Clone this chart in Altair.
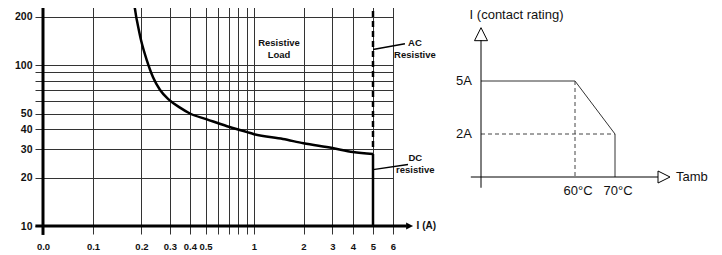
import altair as alt
import pandas as pd

# ---------------- data: left panel (load limit curve) ----------------
X_ORIGIN = 0.05  # the "0.0" origin of the current axis
X_TICKS = [X_ORIGIN, 0.1, 0.2, 0.3, 0.4, 0.5, 0.6, 0.7, 0.8, 0.9, 1, 2, 3, 4, 5, 6]
X_LABELLED = [X_ORIGIN, 0.1, 0.2, 0.3, 0.4, 0.5, 1, 2, 3, 4, 5, 6]
Y_TICKS = [10, 20, 30, 40, 50, 60, 70, 80, 90, 100, 200, 250]
Y_LABELLED = [10, 20, 30, 40, 50, 100, 200, 250]

DC_CURRENT = [X_ORIGIN, 0.177, 0.187, 0.199, 0.216, 0.236, 0.261, 0.296, 0.347, 0.40,
              0.51, 0.68, 0.906, 1.0, 1.5, 2, 3, 4, 5]
DC_VOLTAGE = [250, 250, 191, 142, 107, 84, 70, 61, 54.4, 50,
              46, 41.7, 38.3, 37.2, 34.7, 32.7, 30.5, 28.8, 28]
DC_CUTOFF_I = [5, 5]
DC_CUTOFF_V = [28, 10]
AC_CURRENT = [0.177, 5, 5]
AC_VOLTAGE = [250, 250, 30]

LEFT_NOTES = ["Resistive\nLoad", "AC\nResistive", "DC\nresistive"]
LEFT_NOTES_I = [1.42, 7.33, 7.35]
LEFT_NOTES_V = [126, 125.6, 24.3]
LEADER_I = [5, 5]
LEADER_V = [124.8, 22.4]
LEADER_I2 = [6.69, 6.88]
LEADER_V2 = [135.8, 24.1]

AXIS_I_START, AXIS_I_END, ARROW_I = 0.045, 6.8, 6.98
AXIS_V_BOTTOM, AXIS_V_TOP = 8.8, 250

# ---------------- data: right panel (derating) ----------------
PROFILE_T = [0, 60, 70, 70]
PROFILE_A = [5, 5, 2, 0]
GUIDE_T = [60, 0]
GUIDE_A = [5, 2]
GUIDE_T2 = [60, 70]
GUIDE_A2 = [0, 2]
T_LABELS = ["60°C", "70°C"]
T_LABEL_VALUES = [60, 70]
A_LABELS = ["5A", "2A"]
A_LABEL_VALUES = [5, 2]
R_AXIS_T_START, R_AXIS_T_END, R_ARROW_T = -6.5, 80.75, 82.25
R_AXIS_A_START, R_AXIS_A_END, R_ARROW_A = -0.5, 7.32, 7.65
R_TITLE_T, R_TITLE_A = 22.7, 8.74

FONT_BOLD = "Liberation Sans, Arial, sans-serif"
FONT_REG = "Liberation Sans, Arial, sans-serif"

xL = alt.Scale(type="log", domain=[X_ORIGIN, 0.1, 1, 4, 5, 6],
               range=[0, 50, 211, 310, 330, 350], nice=False)
yL = alt.Scale(type="log", domain=[10, 250], nice=False)
xR = alt.Scale(type="linear", domain=[0, 60, 70], range=[438, 532, 572], nice=False, zero=False)
yR = alt.Scale(type="linear", domain=[0, 2, 5], range=[176, 133, 80], nice=False, zero=False)


def xl(f="I"):
    return alt.X(f, type="quantitative", scale=xL, axis=None)


def yl(f="V"):
    return alt.Y(f, type="quantitative", scale=yL, axis=None)


def xr(f="T"):
    return alt.X(f, type="quantitative", scale=xR, axis=None)


def yr(f="A"):
    return alt.Y(f, type="quantitative", scale=yR, axis=None)


x_label_expr = (f"datum.value == {X_ORIGIN} ? '0.0' : indexof({X_LABELLED}, datum.value) < 0 ? '' : "
                "datum.value < 1 ? format(datum.value, '.1f') : format(datum.value, 'd')")
y_label_expr = f"indexof({Y_LABELLED}, datum.value) < 0 ? '' : format(datum.value, 'd')"

dc = pd.DataFrame({"I": DC_CURRENT, "V": DC_VOLTAGE, "k": range(len(DC_CURRENT))})

axes_layer = alt.Chart(dc).mark_line(strokeWidth=2.5, color="black", interpolate="monotone").encode(
    x=alt.X("I", type="quantitative", scale=xL, title=None,
            axis=alt.Axis(values=X_TICKS, grid=True, gridColor="#333", gridWidth=1,
                          ticks=True, tickColor="#333", tickSize=8, tickWidth=1, domain=False,
                          labelExpr=x_label_expr, labelFont=FONT_BOLD, labelFontWeight="bold",
                          labelFontSize=9.5, labelColor="#111", labelPadding=7,
                          labelOverlap=False, labelFlush=False)),
    y=alt.Y("V", type="quantitative", scale=yL, title=None,
            axis=alt.Axis(values=Y_TICKS, grid=True, gridColor="#333", gridWidth=1,
                          ticks=True, tickColor="#333", tickSize=8, tickWidth=1, domain=False,
                          labelExpr=y_label_expr, labelFont=FONT_BOLD, labelFontWeight="bold",
                          labelFontSize=10.5, labelColor="#111", labelPadding=3,
                          labelOverlap=False, labelFlush=False)),
    order="k:Q",
)

cut = pd.DataFrame({"I": [DC_CUTOFF_I[0]], "V": [DC_CUTOFF_V[0]], "V2": [DC_CUTOFF_V[1]]})
cut_layer = alt.Chart(cut).mark_rule(strokeWidth=2.5, color="black").encode(
    x=xl(), y=yl(), y2="V2")

ac = pd.DataFrame({"I": AC_CURRENT, "V": AC_VOLTAGE, "k": range(len(AC_CURRENT))})
ac_layer = alt.Chart(ac).mark_line(strokeWidth=2.5, color="black", strokeDash=[6, 4]).encode(
    x=xl(), y=yl(), order="k:Q")

frame = pd.DataFrame({"I": [X_ORIGIN, AXIS_I_START], "V": [AXIS_V_BOTTOM, 10],
                      "I2": [X_ORIGIN, AXIS_I_END], "V2": [AXIS_V_TOP, 10]})
frame_layer = alt.Chart(frame).mark_rule(strokeWidth=3, color="black").encode(
    x=xl(), y=yl(), x2="I2", y2="V2")

arrow_l = pd.DataFrame({"I": [ARROW_I], "V": [10], "t": ["I (A)"]})
arrow_l_layer = alt.Chart(arrow_l).mark_point(shape="M1,0L-1,-1L-1,1Z", filled=True, size=49,
                                              color="black", opacity=1).encode(x=xl(), y=yl())
arrow_l_text = alt.Chart(arrow_l).mark_text(align="left", baseline="middle", dx=7, font=FONT_BOLD,
                                            fontWeight="bold", fontSize=10, color="#111").encode(
    x=xl(), y=yl(), text="t:N")

leaders = pd.DataFrame({"I": LEADER_I, "V": LEADER_V, "I2": LEADER_I2, "V2": LEADER_V2})
leader_layer = alt.Chart(leaders).mark_rule(strokeWidth=1.5, color="black").encode(
    x=xl(), y=yl(), x2="I2", y2="V2")

notes = pd.DataFrame({"I": LEFT_NOTES_I, "V": LEFT_NOTES_V, "t": LEFT_NOTES})
notes_layer = alt.Chart(notes).mark_text(align="center", baseline="middle", lineBreak="\n",
                                         lineHeight=12, dy=-6, font=FONT_BOLD, fontWeight="bold",
                                         fontSize=9.5, color="#111").encode(
    x=xl(), y=yl(), text="t:N")

# ---- right panel ----
prof = pd.DataFrame({"T": PROFILE_T, "A": PROFILE_A, "k": range(len(PROFILE_T))})
prof_layer = alt.Chart(prof).mark_line(strokeWidth=1, color="#333").encode(
    x=xr(), y=yr(), order="k:Q")

guides = pd.DataFrame({"T": GUIDE_T, "A": GUIDE_A, "T2": GUIDE_T2, "A2": GUIDE_A2})
guide_layer = alt.Chart(guides).mark_rule(strokeWidth=1, color="#444", strokeDash=[4, 3]).encode(
    x=xr(), y=yr(), x2="T2", y2="A2")

raxes = pd.DataFrame({"T": [0, R_AXIS_T_START], "A": [R_AXIS_A_START, 0],
                      "T2": [0, R_AXIS_T_END], "A2": [R_AXIS_A_END, 0]})
raxes_layer = alt.Chart(raxes).mark_rule(strokeWidth=1, color="black").encode(
    x=xr(), y=yr(), x2="T2", y2="A2")

up = pd.DataFrame({"T": [0], "A": [R_ARROW_A]})
up_layer = alt.Chart(up).mark_point(shape="M0,-1L1,1L-1,1Z", filled=False, size=169, color="black",
                                    strokeWidth=1, opacity=1).encode(x=xr(), y=yr())
right = pd.DataFrame({"T": [R_ARROW_T], "A": [0]})
right_layer = alt.Chart(right).mark_point(shape="M1,0L-1,-1L-1,1Z", filled=False, size=144,
                                          color="black", strokeWidth=1, opacity=1).encode(
    x=xr(), y=yr())

tamb = pd.DataFrame({"T": [R_AXIS_T_END], "A": [0], "t": ["Tamb"]})
tamb_layer = alt.Chart(tamb).mark_text(align="left", baseline="middle", dx=18, font=FONT_REG,
                                       fontSize=13, color="#111").encode(x=xr(), y=yr(), text="t:N")
rtitle = pd.DataFrame({"T": [R_TITLE_T], "A": [R_TITLE_A], "t": ["I (contact rating)"]})
rtitle_layer = alt.Chart(rtitle).mark_text(align="center", baseline="middle", font=FONT_REG,
                                           fontSize=13, color="#111").encode(
    x=xr(), y=yr(), text="t:N")

tl = pd.DataFrame({"T": T_LABEL_VALUES, "A": [0, 0], "t": T_LABELS})
tl_layer = alt.Chart(tl).mark_text(align="center", baseline="middle", dx=3, dy=14, font=FONT_REG,
                                   fontSize=13, color="#111").encode(x=xr(), y=yr(), text="t:N")
al = pd.DataFrame({"T": [0, 0], "A": A_LABEL_VALUES, "t": A_LABELS})
al_layer = alt.Chart(al).mark_text(align="right", baseline="middle", dx=-9, font=FONT_REG,
                                   fontSize=13, color="#111").encode(x=xr(), y=yr(), text="t:N")

chart = alt.layer(
    axes_layer, ac_layer, cut_layer, frame_layer, arrow_l_layer, arrow_l_text, leader_layer,
    notes_layer, prof_layer, guide_layer, raxes_layer, up_layer, right_layer, tamb_layer,
    rtitle_layer, tl_layer, al_layer,
).resolve_scale(x="independent", y="independent").properties(
    width=350, height=225, padding={"left": 6, "top": -12, "right": 0, "bottom": 0}
).configure_view(stroke=None).configure(background="white")

chart.save("out.html", embed_options={"renderer": "svg", "actions": False})
